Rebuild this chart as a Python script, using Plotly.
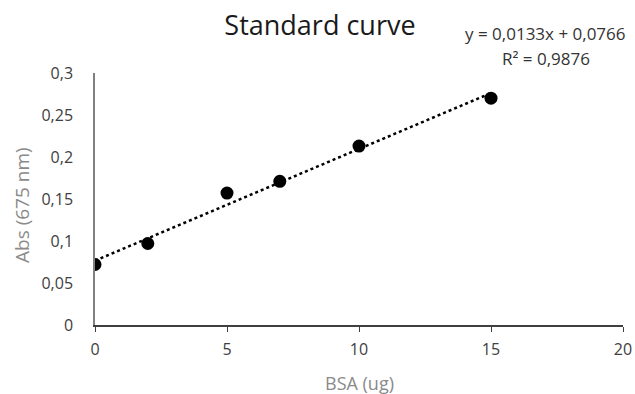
import plotly.graph_objects as go

bsa = [0, 2, 5, 7, 10, 15]
absorbance = [0.072, 0.097, 0.157, 0.171, 0.213, 0.270]
slope = 0.0133
intercept = 0.0766
fit_x = [0, 15]
fit_y = [intercept + slope * x for x in fit_x]
x_ticks = [0, 5, 10, 15, 20]
y_ticks = [0, 0.05, 0.1, 0.15, 0.2, 0.25, 0.3]
y_labels = ["0", "0,05", "0,1", "0,15", "0,2", "0,25", "0,3"]
eq_lines = ["y = 0,0133x + 0,0766", "R² = 0,9876"]

font = "Open Sans, Liberation Sans, sans-serif"

fig = go.Figure()
fig.add_trace(go.Scatter(x=fit_x, y=fit_y, mode="lines",
                         line=dict(color="black", width=2.5, dash="dot"),
                         showlegend=False, hoverinfo="skip"))
fig.add_trace(go.Scatter(x=bsa, y=absorbance, mode="markers",
                         marker=dict(color="black", size=13),
                         showlegend=False))

fig.update_layout(
    width=635, height=394,
    margin=dict(l=95, r=12, t=73, b=69),
    paper_bgcolor="white", plot_bgcolor="white",
    font=dict(family=font, color="#404040", size=14),
    title=dict(text="Standard curve", x=320 / 635, xanchor="center",
               y=1 - 26 / 394, yanchor="middle",
               font=dict(size=27, color="#1a1a1a", family=font)),
    annotations=[
        dict(text=eq_lines[0], xref="paper", yref="paper",
             x=(545 - 95) / 528, y=1, yshift=40, xanchor="center", yanchor="middle",
             showarrow=False, font=dict(size=17, color="#333333", family=font)),
        dict(text=eq_lines[1], xref="paper", yref="paper",
             x=(546 - 95) / 528, y=1, yshift=15, xanchor="center", yanchor="middle",
             showarrow=False, font=dict(size=17, color="#333333", family=font)),
        dict(text="BSA (ug)", xref="paper", yref="paper", x=0.5, y=0, yshift=-58,
             xanchor="center", yanchor="middle", showarrow=False,
             font=dict(size=18, color="#8a8a8a", family=font)),
        dict(text="Abs (675 nm)", xref="paper", yref="paper", x=0, y=0.5, xshift=-73, yshift=-6,
             xanchor="center", yanchor="middle", textangle=-90, showarrow=False,
             font=dict(size=19, color="#8a8a8a", family=font)),
    ],
)
fig.update_xaxes(range=[0, 20], tickvals=x_ticks, ticktext=[str(v) for v in x_ticks],
                 showgrid=False, zeroline=False, showline=True, linecolor="#404040", linewidth=1.5,
                 ticks="outside", ticklen=5, tickcolor="#404040", ticklabelstandoff=4,
                 automargin=False, tickfont=dict(size=16, color="#404040"))
fig.update_yaxes(range=[0, 0.3], tickvals=y_ticks, ticktext=y_labels,
                 showgrid=False, zeroline=False, showline=True, linecolor="#808080", linewidth=1.5,
                 ticks="", ticklabelstandoff=17, automargin=False,
                 tickfont=dict(size=16, color="#404040"))

fig.write_html("out.html", config={"displayModeBar": False},
               post_script="document.body.style.margin='0';")
